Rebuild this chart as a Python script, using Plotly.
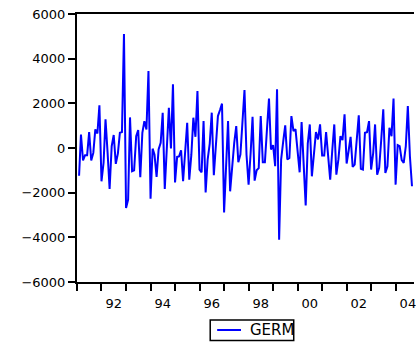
import pandas as pd
import plotly.graph_objects as go

# Monthly series GERM, starting 1991:02
germ = [
    -1240, 600, -560, -320, -320, 710, -560, -220, 830, 650, 1910,
    -1490, -660, 1280, -220, -1830, 80, 580, -710, -250, 680, 710, 5100,
    -2690, -2310, 1370, -1040, -1000, 530, 800, -1310, 680, 1200, 830, 3450,
    -2270, -30, -300, -1290, -70, 230, 1580, -1830, 200, 1800, -20, 2850,
    -1540, -400, -380, -100, -1490, -70, 1130, -1415, -300, 1357, 503, 2553,
    -966, -1087, 1204, -1986, -517, 200, 1582, -1222, 400, 1430, 1700, 1986,
    -2885, -440, 1204, -1940, -665, 232, 980, -636, -292, 1100, 2598, -300,
    -1640, -200, 1402, -1460, -996, -900, 1430, -636, -636, 800, 2210, -67,
    126, -817, 2629, -4112, -517, 300, 1011, -517, -450, 1430, 755, 845,
    -300, -1087, 1160, -700, -2570, 200, 1056, -1267, -300, 710, 382, 1056,
    -337, -337, 710, -400, -1415, -100, 1056, -1191, -500, 530, 352, 1505,
    -697, -100, 503, -845, -742, 382, 1460, -935, -966, 683, 710, 1204,
    -966, -216, 1056, -1191, -890, 382, 1730, -1115, -817, 906, 530, 2210,
    -1640, 126, 81, -547, -665, 81, 1880, -367, -1715,
]
dates = pd.date_range("1991-02-01", periods=len(germ), freq="MS")

label_years = [1992, 1994, 1996, 1998, 2000, 2002, 2004]
label_text = ["92", "94", "96", "98", "00", "02", "04"]
y_ticks = [-6000, -4000, -2000, 0, 2000, 4000, 6000]

label_pos = [f"{y}-07-02" for y in label_years]

fig = go.Figure()
fig.add_trace(go.Scatter(x=dates, y=germ, mode="lines", name="GERM",
                         line=dict(color="#0000FF", width=2),
                         showlegend=False))

font = dict(family="DejaVu Sans", size=13, color="black")

fig.update_layout(
    width=416, height=344,
    margin=dict(l=77, r=0, t=14, b=62),
    paper_bgcolor="white", plot_bgcolor="white",
    xaxis=dict(
        type="date",
        range=["1991-01-01", "2004-10-01"],
        showgrid=False, zeroline=False,
        showline=True, linecolor="black", linewidth=2, mirror=True,
        tickmode="array", tickvals=label_pos, ticktext=label_text,
        ticks="outside", ticklen=8, tickcolor="rgba(0,0,0,0)",
        tickfont=font, ticklabeloverflow="allow",
        minor=dict(tickmode="linear", tick0="1991-01-01", dtick="M12",
                   ticks="outside", ticklen=7, tickwidth=1.5,
                   tickcolor="black", showgrid=False),
    ),
    yaxis=dict(
        range=[-6000, 6000],
        showgrid=False, zeroline=False,
        showline=True, linecolor="black", linewidth=2,
        tickmode="array", tickvals=y_ticks,
        ticks="outside", ticklen=7, tickwidth=1.5, tickcolor="black",
        tickfont=font,
    ),
    showlegend=False,
)

# Legend box drawn manually (EViews-style)
fig.add_shape(type="rect", xref="paper", yref="paper",
              x0=0.3953, x1=0.6431, y0=-0.1418, y1=-0.2183,
              line=dict(color="black", width=1.5), fillcolor="white")
fig.add_shape(type="line", xref="paper", yref="paper",
              x0=0.4159, x1=0.4867, y0=-0.1791, y1=-0.1791,
              line=dict(color="#0000FF", width=2))
fig.add_annotation(xref="paper", yref="paper", x=0.5074, y=-0.1791,
                   xanchor="left", yanchor="middle", showarrow=False,
                   text="GERM",
                   font=dict(family="DejaVu Sans", size=15, color="black"))

fig.write_html("out.html")
